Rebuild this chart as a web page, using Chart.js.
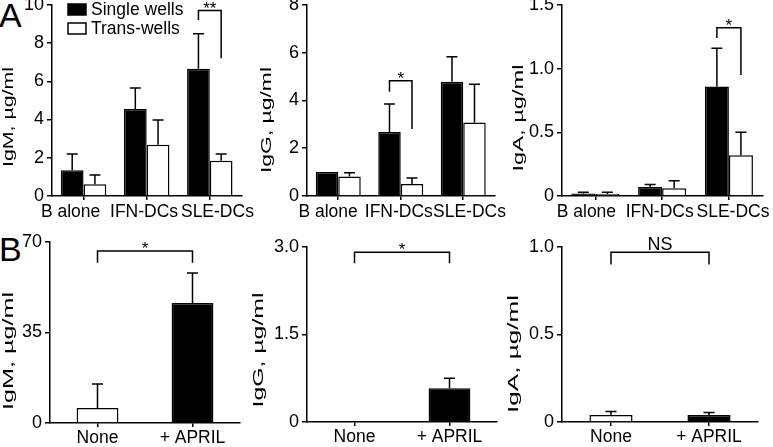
<!DOCTYPE html>
<html>
<head>
<meta charset="utf-8">
<script src="https://cdn.jsdelivr.net/npm/chart.js@4.4.0/dist/chart.umd.min.js"></script>
<style>
  body { margin: 0; background: #fff; width: 773px; height: 447px; position: relative; overflow: hidden;
         font-family: "Liberation Sans", Arial, sans-serif; }
  canvas { position: absolute; }
  .letter { position: absolute; font-size: 34px; line-height: 1; color: #000; }
</style>
</head>
<body>
<div class="letter" style="left:-1px; top:-2px">A</div>
<div class="letter" style="left:-1px; top:232px">B</div>
<canvas id="a1" width="258" height="229" style="left:0; top:-9px"></canvas>
<canvas id="a2" width="252" height="229" style="left:258px; top:-9px"></canvas>
<canvas id="a3" width="263" height="229" style="left:510px; top:-9px"></canvas>
<canvas id="b1" width="250" height="222" style="left:0; top:225px"></canvas>
<canvas id="b2" width="255" height="222" style="left:250px; top:225px"></canvas>
<canvas id="b3" width="268" height="222" style="left:505px; top:225px"></canvas>
<script>
// panel A: B cells alone or with DCs, single wells vs trans-wells
const groupsA = ['B alone', 'IFN-DCs', 'SLE-DCs'];
const seriesA = ['Single wells', 'Trans-wells'];

const igmSingle = [1.35, 4.55, 6.65];
const igmSingleSem = [0.85, 1.1, 1.83];
const igmTrans = [0.62, 2.68, 1.85];
const igmTransSem = [0.48, 1.3, 0.35];

const iggSingle = [1.0, 2.68, 4.78];
const iggSingleSem = [0, 1.17, 1.05];
const iggTrans = [0.82, 0.5, 3.08];
const iggTransSem = [0.15, 0.25, 1.6];

const igaSingle = [0.02, 0.07, 0.86];
const igaSingleSem = [0.01, 0.02, 0.3];
const igaTrans = [0.015, 0.06, 0.32];
const igaTransSem = [0.015, 0.06, 0.18];

// panel B: None vs + APRIL
const groupsB = ['None', '+ APRIL'];
const bIgm = [5.8, 46.4];
const bIgmSem = [9.3, 11.6];
const bIgg = [0.01, 0.58];
const bIggSem = [0, 0.17];
const bIga = [0.04, 0.04];
const bIgaSem = [0.02, 0.015];

// significance brackets: top of bracket, left / right leg ends (data units)
const sigA1 = { cat: 2, top: 9.7, ends: [9.2, 7.2], text: '**' };
const sigA2 = { cat: 1, top: 4.82, ends: [4.36, 2.8], text: '*' };
const sigA3 = { cat: 2, top: 1.32, ends: [1.24, 0.95], text: '*' };
const sigB1 = { top: 66.5, ends: [62, 62], text: '*' };
const sigB2 = { top: 2.91, ends: [2.72, 2.72], text: '*' };
const sigB3 = { top: 0.97, ends: [0.9, 0.9], text: 'NS' };

const FONT = '"Liberation Sans", Arial, sans-serif';
Chart.defaults.font.family = FONT;
Chart.defaults.color = '#000';

const errBars = {
  id: 'errBars',
  afterDatasetsDraw(chart) {
    const ctx = chart.ctx, y = chart.scales.y;
    ctx.save();
    ctx.strokeStyle = '#000';
    ctx.lineWidth = 1.5;
    chart.data.datasets.forEach((ds, i) => {
      chart.getDatasetMeta(i).data.forEach((bar, j) => {
        const s = ds.sem[j];
        if (!s) return;
        const yt = y.getPixelForValue(ds.data[j] + s);
        ctx.beginPath();
        ctx.moveTo(bar.x, bar.y);
        ctx.lineTo(bar.x, yt);
        ctx.moveTo(bar.x - 5.5, yt);
        ctx.lineTo(bar.x + 5.5, yt);
        ctx.stroke();
      });
    });
    ctx.restore();
  }
};

const sig = {
  id: 'sig',
  afterDraw(chart, args, o) {
    if (!o.text) return;
    const ctx = chart.ctx, y = chart.scales.y;
    let x1, x2;
    if (o.cat != null) {
      x1 = chart.getDatasetMeta(0).data[o.cat].x;
      x2 = chart.getDatasetMeta(1).data[o.cat].x;
    } else {
      x1 = chart.getDatasetMeta(0).data[0].x;
      x2 = chart.getDatasetMeta(0).data[1].x;
    }
    const yt = y.getPixelForValue(o.top);
    ctx.save();
    ctx.strokeStyle = '#000';
    ctx.lineWidth = 1.5;
    ctx.beginPath();
    ctx.moveTo(x1, y.getPixelForValue(o.ends[0]));
    ctx.lineTo(x1, yt);
    ctx.lineTo(x2, yt);
    ctx.lineTo(x2, y.getPixelForValue(o.ends[1]));
    ctx.stroke();
    ctx.fillStyle = '#000';
    ctx.textAlign = 'center';
    ctx.textBaseline = 'alphabetic';
    const big = o.text === 'NS';
    ctx.font = (big ? 18 : 17) + 'px ' + FONT;
    ctx.fillText(o.text, (x1 + x2) / 2, yt + (big ? -2 : 3));
    ctx.restore();
  }
};

const keyBox = {
  id: 'keyBox',
  afterDraw(chart, args, o) {
    if (!o.show) return;
    const ctx = chart.ctx;
    const x = chart.chartArea.left + 16;
    ctx.save();
    ctx.lineWidth = 1.5;
    ctx.strokeStyle = '#000';
    ctx.font = '17.5px ' + FONT;
    ctx.textBaseline = 'middle';
    chart.data.datasets.forEach((ds, i) => {
      const yb = 13 + i * 19;
      ctx.fillStyle = ds.backgroundColor;
      ctx.fillRect(x, yb, 18, 11);
      ctx.strokeRect(x, yb, 18, 11);
      ctx.fillStyle = '#000';
      ctx.fillText(ds.label, x + 23, yb + 6);
    });
    ctx.restore();
  }
};

// rotated y-axis title, drawn a bit longer as in the printed figure
const yTitle = {
  id: 'yTitle',
  afterDraw(chart, args, o) {
    const ctx = chart.ctx;
    const text = chart.options.scales.y.title.text;
    ctx.save();
    ctx.font = '15px ' + FONT;
    const w = ctx.measureText(text).width;
    ctx.translate(o.x, o.y);
    ctx.rotate(-Math.PI / 2);
    ctx.scale(o.len / w, 1);
    ctx.fillStyle = '#000';
    ctx.textAlign = 'center';
    ctx.textBaseline = 'middle';
    ctx.fillText(text, 0, 0);
    ctx.restore();
  }
};

function yAxis(yw, yMax, step, title, fmt) {
  return {
    min: 0, max: yMax,
    grid: { drawOnChartArea: false, tickLength: 5, color: '#000', lineWidth: 1.5 },
    border: { color: '#000', width: 1.5 },
    ticks: { stepSize: step, font: { size: 18 }, padding: 3, callback: fmt },
    title: { display: false, text: title },
    afterFit(s) { s.width = yw; }
  };
}

const plain = v => String(v);
const oneDec = v => v === 0 ? '0' : v.toFixed(1);

function panelA(id, s, sSem, t, tSem, yMax, step, title, fmt, sg, yw, padR, lab, tt, legend) {
  return new Chart(document.getElementById(id), {
    type: 'bar',
    data: {
      labels: groupsA,
      datasets: [
        { label: seriesA[0], data: s, sem: sSem, backgroundColor: '#000', borderColor: '#000',
          borderWidth: 1.5, categoryPercentage: 0.72, barPercentage: 1.0 },
        { label: seriesA[1], data: t, sem: tSem, backgroundColor: '#fff', borderColor: '#000',
          borderWidth: 1.5, categoryPercentage: 0.72, barPercentage: 1.0 }
      ]
    },
    options: {
      responsive: false, animation: false,
      layout: { padding: { top: 8, right: padR, left: 0, bottom: 0 } },
      plugins: { legend: { display: false }, tooltip: { enabled: false }, sig: sg,
                 keyBox: { show: legend }, yTitle: tt },
      scales: {
        x: {
          weight: 0,
          grid: { drawOnChartArea: false, offset: false, tickLength: 4, color: '#000', lineWidth: 1.5 },
          border: { color: '#000', width: 1.5 },
          ticks: { display: false },
          afterFit(sc) { sc.height = 4; }
        },
        // group names sit a little wider apart than the bars in the original
        xl: {
          type: 'linear', position: 'bottom', weight: 1, bounds: 'data', offset: false,
          min: lab[0], max: lab[1],
          grid: { display: false, drawTicks: false, offset: false }, border: { display: false },
          ticks: { padding: 2, font: { size: 17.5 }, maxRotation: 0, minRotation: 0, autoSkip: false,
                   callback: v => groupsA[v] !== undefined ? groupsA[v] : '' },
          afterBuildTicks(sc) { sc.ticks = groupsA.map((g, i) => ({ value: i })); },
          afterFit(sc) { sc.height = 20; }
        },
        y: yAxis(yw, yMax, step, title, fmt)
      }
    },
    plugins: [errBars, sig, keyBox, yTitle]
  });
}

function panelB(id, vals, sem, yMax, step, title, fmt, sg, yw, padR, padT, xh, tt) {
  return new Chart(document.getElementById(id), {
    type: 'bar',
    data: {
      labels: groupsB,
      datasets: [
        { label: title, data: vals, sem: sem, backgroundColor: ['#fff', '#000'], borderColor: '#000',
          borderWidth: 1.5, categoryPercentage: 1.0, barPercentage: 0.44 }
      ]
    },
    options: {
      responsive: false, animation: false,
      layout: { padding: { top: padT, right: padR, left: 0, bottom: 0 } },
      plugins: { legend: { display: false }, tooltip: { enabled: false }, sig: sg,
                 keyBox: { show: false }, yTitle: tt },
      scales: {
        x: {
          grid: { drawOnChartArea: false, offset: false, tickLength: 4, color: '#000', lineWidth: 1.5 },
          border: { color: '#000', width: 1.5 },
          ticks: { font: { size: 17.5 }, padding: 1, maxRotation: 0, autoSkip: false },
          afterFit(sc) { sc.height = xh; }
        },
        y: yAxis(yw, yMax, step, title, fmt)
      }
    },
    plugins: [errBars, sig, keyBox, yTitle]
  });
}

panelA('a1', igmSingle, igmSingleSem, igmTrans, igmTransSem, 10, 2, 'IgM, µg/ml', plain, sigA1,
       52, 8, [-0.254, 2.326], { x: 9, y: 126, len: 100 }, true);
panelA('a2', iggSingle, iggSingleSem, iggTrans, iggTransSem, 8, 2, 'IgG, µg/ml', plain, sigA2,
       49, 8, [-0.299, 2.354], { x: 9, y: 129, len: 106 }, false);
panelA('a3', igaSingle, igaSingleSem, igaTrans, igaTransSem, 1.5, 0.5, 'IgA, µg/ml', oneDec, sigA3,
       52, 6, [-0.333, 2.40], { x: 9, y: 127, len: 107 }, false);

panelB('b1', bIgm, bIgmSem, 70, 35, 'IgM, µg/ml', plain, sigB1, 50, 10, 17, 24, { x: 9, y: 126, len: 118 });
panelB('b2', bIgg, bIggSem, 3, 1.5, 'IgG, µg/ml', oneDec, sigB2, 57, 8, 22, 25, { x: 9, y: 125, len: 115 });
panelB('b3', bIga, bIgaSem, 1, 0.5, 'IgA, µg/ml', oneDec, sigB3, 57, 15, 22, 25, { x: 9, y: 129, len: 118 });
</script>
</body>
</html>
